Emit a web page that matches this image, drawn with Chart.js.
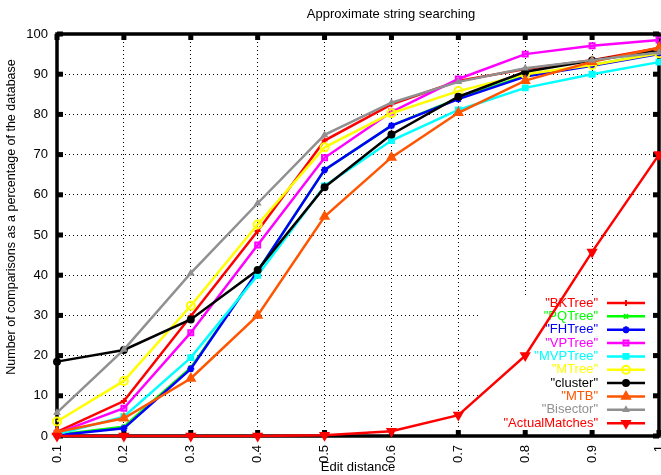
<html>
<head>
<title>Approximate string searching</title>
<script src="https://cdn.jsdelivr.net/npm/chart.js@4.4.0/dist/chart.umd.min.js"></script>
<style>
    body { margin: 0; background: white; }
    #wrap { width: 661px; height: 475px; }
</style>
</head>
<body>
<div id="wrap"><canvas id="chart"></canvas></div>
<script>
// x categories (edit distance) and the y ticks
var editDistance = ["0.1", "0.2", "0.3", "0.4", "0.5", "0.6", "0.7", "0.8", "0.9", "1"];
var yTickValues = [0, 10, 20, 30, 40, 50, 60, 70, 80, 90, 100];

// % of the database compared
var bkTree        = [1.0, 8.7, 29.8, 51.0, 73.5, 82.5, 88.3, 91.3, 93.5, 96.5];
var pqTree        = [0.3, 2.3, 17.0, 41.0, 66.2, 77.2, 84.0, 89.6, 92.3, 95.2];
var fhTree        = [0.2, 1.9, 16.7, 41.0, 66.2, 77.2, 83.8, 89.4, 92.1, 95.0];
var vpTree        = [0.7, 6.9, 25.7, 47.5, 69.2, 80.6, 88.8, 95.0, 97.1, 98.5];
var mvpTree       = [0.4, 4.8, 19.5, 40.0, 62.2, 73.5, 81.1, 86.6, 90.0, 93.0];
var mTree         = [3.6, 13.7, 32.4, 52.6, 71.8, 80.3, 85.8, 90.0, 92.3, 95.2];
var cluster       = [18.5, 21.4, 29.0, 41.3, 61.9, 75.0, 84.4, 90.6, 93.4, 96.0];
var mtb           = [1.0, 4.4, 14.3, 30.0, 54.6, 69.3, 80.4, 88.4, 93.1, 96.6];
var bisector      = [5.8, 21.5, 40.5, 57.9, 74.9, 82.9, 88.1, 91.5, 93.5, 95.4];
var actualMatches = [0.0, 0.0, 0.0, 0.0, 0.2, 1.2, 5.2, 20.0, 45.8, 70.0];

var seriesNames = ['"BKTree"', '"PQTree"', '"FHTree"', '"VPTree"', '"MVPTree"', '"MTree"', '"cluster"', '"MTB"', '"Bisector"', '"ActualMatches"'];
var seriesData = [bkTree, pqTree, fhTree, vpTree, mvpTree, mTree, cluster, mtb, bisector, actualMatches];
var seriesColors = ['#ff0000', '#00ff00', '#0000ff', '#ff00ff', '#00ffff', '#ffff00', '#000000', '#ff5500', '#909090', '#ff0000'];
// gnuplot point types: + x * open square, square, open circle, dot, triangle, small triangle, down triangle
var pointStyles = ['cross', 'crossRot', 'star', 'rect', 'rect', 'circle', 'circle', 'triangle', 'triangle', 'triangle'];
var pointFilled = [false, false, false, false, true, false, true, true, true, true];
var pointSizes = [3, 3, 3.5, 3.5, 3.5, 4, 3, 4.5, 2.5, 4.5];
var pointRotations = [0, 0, 0, 0, 0, 0, 0, 0, 0, 180];

var FONT = "'Liberation Sans', Arial, sans-serif";
Chart.defaults.font.family = FONT;
Chart.defaults.color = '#000';

var datasets = [];
for (var i = 0; i < seriesData.length; i++) {
    datasets.push({
        label: seriesNames[i],
        data: seriesData[i],
        borderColor: seriesColors[i],
        backgroundColor: pointFilled[i] ? seriesColors[i] : 'rgba(0,0,0,0)',
        pointBackgroundColor: pointFilled[i] ? seriesColors[i] : 'rgba(0,0,0,0)',
        pointBorderColor: seriesColors[i],
        borderWidth: 2.5,
        pointBorderWidth: 2,
        pointRadius: pointSizes[i],
        pointStyle: pointStyles[i],
        pointRotation: pointRotations[i],
        tension: 0,
        clip: false,
        order: seriesData.length - i   // later series on top, like gnuplot
    });
}

// key box (opaque, hides the grid behind it)
var keyLeft = 478, keyTop = 295;

var gnuplotLook = {
    id: 'gnuplotLook',
    beforeDatasetsDraw: function (chart) {
        var ctx = chart.ctx, a = chart.chartArea;
        var xs = chart.scales.x, ys = chart.scales.y;
        ctx.save();
        ctx.fillStyle = 'white';
        ctx.fillRect(keyLeft, keyTop, a.right - keyLeft, a.bottom - keyTop);

        // border
        ctx.strokeStyle = '#000';
        ctx.lineWidth = 3.5;
        ctx.strokeRect(a.left, a.top, a.right - a.left, a.bottom - a.top);

        // tic marks on all four sides
        ctx.fillStyle = '#000';
        for (var i = 0; i < editDistance.length; i++) {
            var x = xs.getPixelForValue(i);
            ctx.fillRect(x - 2.5, a.bottom - 6, 5, 6);
            ctx.fillRect(x - 2.5, a.top, 5, 6);
        }
        for (var j = 0; j < yTickValues.length; j++) {
            var y = ys.getPixelForValue(yTickValues[j]);
            ctx.fillRect(a.left, y - 2.5, 6, 5);
            ctx.fillRect(a.right - 6, y - 2.5, 6, 5);
        }

        // titles
        ctx.fillStyle = '#000';
        ctx.textAlign = 'center';
        ctx.textBaseline = 'middle';
        ctx.font = '13px ' + FONT;
        ctx.fillText('Approximate string searching', 391, 14);
        ctx.fillText('Edit distance', 358, 467);
        ctx.save();
        ctx.translate(12, 217);
        ctx.rotate(-Math.PI / 2);
        ctx.font = '12.5px ' + FONT;
        ctx.fillText('Number of comparisons as a percentage of the database', 0, 0);
        ctx.restore();

        // key
        ctx.font = '13px ' + FONT;
        ctx.textAlign = 'right';
        for (var k = 0; k < chart.data.datasets.length; k++) {
            var ds = chart.data.datasets[k];
            var ky = 303 + k * 13.35;
            ctx.fillStyle = ds.borderColor;
            ctx.fillText(ds.label, 598, ky);
            ctx.strokeStyle = ds.borderColor;
            ctx.lineWidth = 2.5;
            ctx.beginPath();
            ctx.moveTo(607, ky);
            ctx.lineTo(645, ky);
            ctx.stroke();
            ctx.fillStyle = ds.pointBackgroundColor;
            ctx.lineWidth = 2;
            Chart.helpers.drawPoint(ctx, {
                pointStyle: ds.pointStyle,
                radius: ds.pointRadius,
                rotation: ds.pointRotation,
                borderWidth: 2
            }, 626, ky);
        }
        ctx.restore();
    }
};

new Chart(document.getElementById('chart'), {
    type: 'line',
    data: { labels: editDistance, datasets: datasets },
    options: {
        responsive: true,
        maintainAspectRatio: false,
        animation: false,
        layout: { autoPadding: false, padding: { top: 34, right: 2, left: 0, bottom: 0 } },
        plugins: { legend: { display: false }, title: { display: false }, tooltip: { enabled: false } },
        scales: {
            x: {
                type: 'category',
                offset: false,
                afterFit: function (scale) {
                    scale.height = 39;
                    scale.paddingLeft = 0;
                    scale.paddingRight = 0;
                },
                grid: { color: '#000', lineWidth: 1, drawTicks: false },
                border: { display: false, dash: [1, 3] },
                ticks: {
                    autoSkip: false,
                    minRotation: 90,
                    maxRotation: 90,
                    padding: 9,
                    font: { size: 13 },
                    color: '#000'
                }
            },
            y: {
                min: 0,
                max: 100,
                afterFit: function (scale) {
                    scale.width = 57;
                    scale.paddingTop = 0;
                    scale.paddingBottom = 0;
                },
                afterBuildTicks: function (scale) {
                    scale.ticks = yTickValues.map(function (v) { return { value: v }; });
                },
                grid: { color: '#000', lineWidth: 1, drawTicks: false },
                border: { display: false, dash: [1, 3] },
                ticks: { padding: 9, font: { size: 13 }, color: '#000' }
            }
        }
    },
    plugins: [gnuplotLook]
});
</script>
</body>
</html>
